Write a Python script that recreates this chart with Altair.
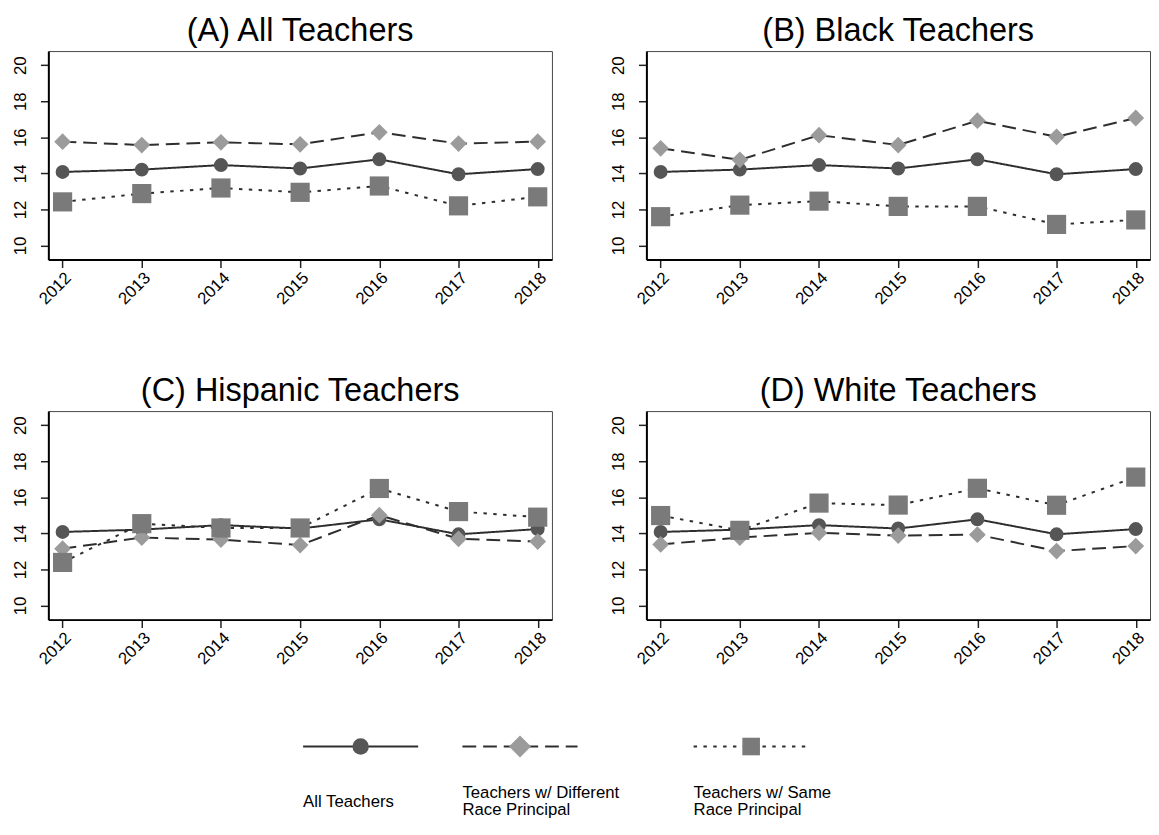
import altair as alt
import pandas as pd

years = [2012, 2013, 2014, 2015, 2016, 2017, 2018]
series_names = ["All Teachers", "Teachers w/ Different Race Principal", "Teachers w/ Same Race Principal"]
legend_labels = ["All Teachers", "Teachers w/ Different\nRace Principal", "Teachers w/ Same\nRace Principal"]
panel_keys = ["A", "B", "C", "D"]
panel_titles = ["(A) All Teachers", "(B) Black Teachers", "(C) Hispanic Teachers", "(D) White Teachers"]

all_teachers = [14.08, 14.21, 14.46, 14.27, 14.78, 13.95, 14.24]

a_diff = [15.76, 15.57, 15.72, 15.61, 16.28, 15.65, 15.76]
a_same = [12.42, 12.88, 13.19, 12.95, 13.30, 12.20, 12.70]
b_diff = [15.39, 14.75, 16.12, 15.57, 16.92, 16.03, 17.07]
b_same = [11.60, 12.24, 12.46, 12.17, 12.17, 11.17, 11.42]
c_diff = [13.15, 13.77, 13.66, 13.35, 15.01, 13.70, 13.55]
c_same = [12.39, 14.54, 14.30, 14.30, 16.49, 15.21, 14.90]
d_diff = [13.39, 13.77, 14.03, 13.88, 13.93, 13.02, 13.30]
d_same = [14.99, 14.17, 15.68, 15.57, 16.50, 15.56, 17.12]

y_ticks = [10, 12, 14, 16, 18, 20]

panel_series = {
    "A": [all_teachers, a_diff, a_same],
    "B": [all_teachers, b_diff, b_same],
    "C": [all_teachers, c_diff, c_same],
    "D": [all_teachers, d_diff, d_same],
}

rows = []
for key in panel_keys:
    for s_idx, (name, vals) in enumerate(zip(series_names, panel_series[key])):
        for yr, v in zip(years, vals):
            rows.append({"panel": key, "series": name, "order": s_idx, "year": yr, "value": v})
df = pd.DataFrame(rows)

# styles
FONT = "Liberation Sans"
line_color = "#2e2e2e"
marker_colors = ["#565656", "#9b9b9b", "#7a7a7a"]
marker_shapes = ["circle", "diamond", "square"]
marker_sizes = [200, 380, 190]
legend_marker_sizes = [280, 500, 320]
dashes = [[1, 0], [14, 7], [3.5, 6.5]]
TICK_FS = 17

PW, PH = 512, 212

def panel(key, title):
    base = alt.Chart(df).transform_filter(alt.datum.panel == key)
    x = alt.X("year:Q",
              scale=alt.Scale(domain=[2011.82, 2018.18], nice=False, zero=False),
              axis=alt.Axis(values=years, format="d", labelAngle=315, title=None, grid=False,
                            tickSize=8, labelFontSize=TICK_FS, labelPadding=2, labelFont=FONT,
                            labelColor="black", domainColor="black", domainWidth=2,
                            tickColor="#222", tickWidth=1.5))
    y = alt.Y("value:Q",
              scale=alt.Scale(domain=[9.22, 20.78], nice=False, zero=False),
              axis=alt.Axis(values=y_ticks, format="d", labelAngle=270, title=None, grid=False,
                            tickSize=8, labelFontSize=TICK_FS, labelPadding=11, labelFont=FONT,
                            labelColor="black", domainColor="black", domainWidth=2,
                            tickColor="#222", tickWidth=1.5))
    lines = base.mark_line(strokeWidth=2, color=line_color).encode(
        x=x, y=y,
        detail="series:N",
        strokeDash=alt.StrokeDash("series:N", scale=alt.Scale(domain=series_names, range=dashes), legend=None),
    )
    pts = base.mark_point(filled=True, opacity=1).encode(
        x=x, y=y,
        shape=alt.Shape("series:N", scale=alt.Scale(domain=series_names, range=marker_shapes), legend=None),
        color=alt.Color("series:N", scale=alt.Scale(domain=series_names, range=marker_colors), legend=None),
        size=alt.Size("series:N", scale=alt.Scale(domain=series_names, range=marker_sizes), legend=None),
        order=alt.Order("order:Q"),
    )
    return alt.layer(lines, pts).properties(
        width=PW, height=PH,
        title=alt.TitleParams(title, fontSize=33, font=FONT, fontWeight="normal", color="black",
                              anchor="middle", frame="group", offset=3),
    )

row1 = alt.hconcat(panel("A", panel_titles[0]), panel("B", panel_titles[1]), spacing=57)
row2 = alt.hconcat(panel("C", panel_titles[2]), panel("D", panel_titles[3]), spacing=57)

# custom legend (Stata-style key)
legend_df = pd.DataFrame({"series": series_names, "label": legend_labels})
legend_left = [259, 421, 656]
seg_w = 117
line_y = 10
text_y = 57
LEG_LH = 18
layers = []
for i, name in enumerate(series_names):
    b = alt.Chart(legend_df).transform_filter(alt.datum.series == name)
    x0 = legend_left[i]
    n_lines = legend_labels[i].count("\n") + 1
    ty = text_y + (2 - n_lines) * LEG_LH / 2
    layers.append(b.mark_rule(strokeWidth=2, color=line_color, strokeDash=dashes[i]).encode(
        x=alt.value(x0), x2=alt.value(x0 + seg_w), y=alt.value(line_y)))
    layers.append(b.mark_point(filled=True, opacity=1, shape=marker_shapes[i], size=legend_marker_sizes[i],
                               color=marker_colors[i]).encode(
        x=alt.value(x0 + seg_w / 2), y=alt.value(line_y)))
    layers.append(b.mark_text(align="left", baseline="middle", fontSize=17, font=FONT, lineBreak="\n",
                              lineHeight=LEG_LH, color="black").encode(
        x=alt.value(x0), y=alt.value(ty), text="label:N"))
legend = alt.layer(*layers).properties(width=900, height=60, view=alt.ViewBackground(strokeOpacity=0))

chart = alt.vconcat(row1, row2, legend, spacing=68).configure(
    padding={"left": 3, "top": 0, "right": 0, "bottom": 0},
    background="white",
).configure_view(stroke="#444", strokeWidth=1)

chart.save("out.html", embed_options={"renderer": "svg", "actions": False})
